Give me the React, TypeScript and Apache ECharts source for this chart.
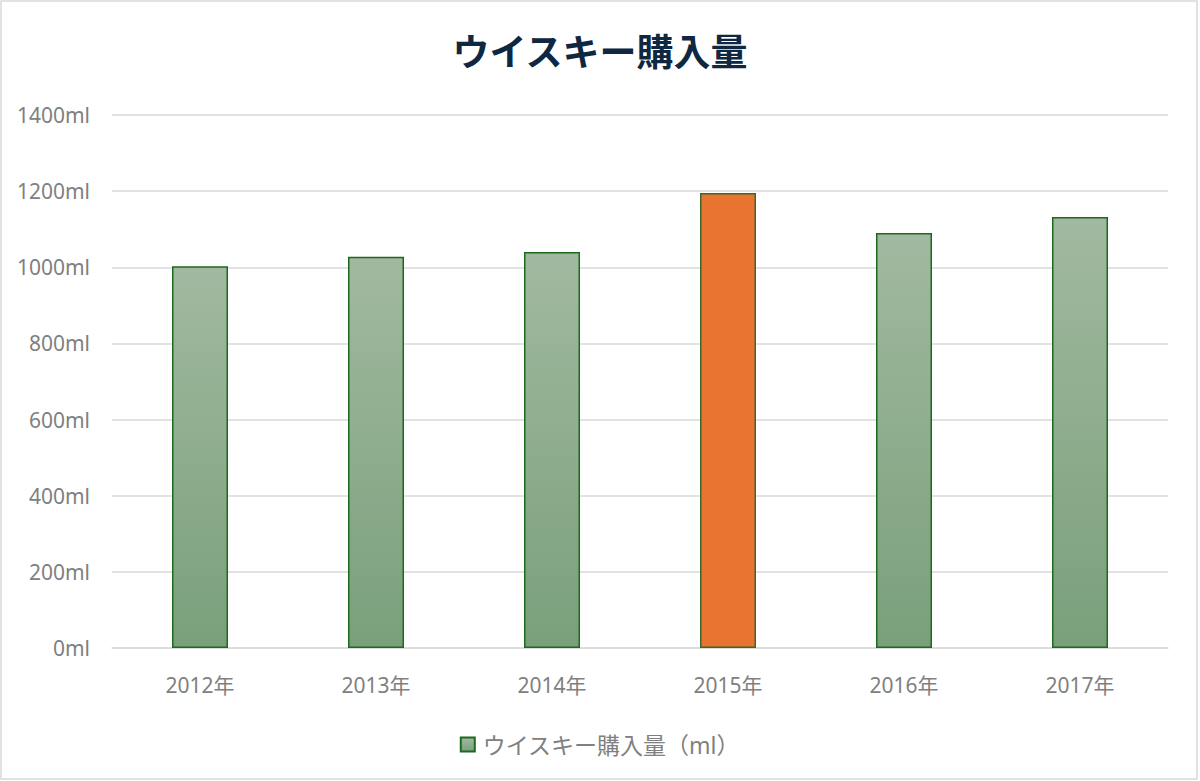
import React, { useEffect, useRef } from "react";
import * as echarts from "echarts";

const categories = ["2012年", "2013年", "2014年", "2015年", "2016年", "2017年"];
const purchaseMl = [1003, 1028, 1040, 1195, 1090, 1132];
const highlightIndex = 3;
const yTicks = { min: 0, max: 1400, interval: 200 };
const titleText = "ウイスキー購入量";
const seriesName = "ウイスキー購入量（ml）";

const FONT = '"Noto Sans", "Noto Sans CJK JP", sans-serif';
const TITLE_FONT = '"Noto Sans CJK JP", "Noto Sans", sans-serif';

export default function App() {
  const ref = useRef<HTMLDivElement>(null);

  useEffect(() => {
    document.body.style.margin = "0";
    if (!ref.current) return;
    const chart = echarts.init(ref.current, undefined, { renderer: "svg" });
    const greenGradient = new echarts.graphic.LinearGradient(0, 0, 0, 1, [
      { offset: 0, color: "#a1b9a0" },
      { offset: 1, color: "#7aa07b" },
    ]);
    chart.setOption({
      animation: false,
      backgroundColor: "#ffffff",
      textStyle: { fontFamily: FONT },
      title: {
        text: titleText,
        left: "center",
        top: 31,
        padding: 0,
        textStyle: {
          fontFamily: TITLE_FONT,
          fontSize: 37,
          fontWeight: "bold",
          color: "#0e2841",
        },
      },
      graphic: [
        {
          type: "rect",
          shape: { x: 1, y: 1, width: 1196, height: 778 },
          style: { fill: "none", stroke: "#d9d9d9", lineWidth: 1.5 },
          silent: true,
        },
      ],
      legend: {
        top: 728,
        left: "center",
        itemWidth: 14,
        itemHeight: 14,
        itemGap: 10,
        icon: "rect",
        textStyle: {
          fontFamily: FONT,
          fontSize: 23,
          color: "#808080",
          padding: [0, 0, 0, 3],
        },
        data: [seriesName],
      },
      grid: { left: 112, right: 32, top: 115, bottom: 133, containLabel: false },
      xAxis: {
        type: "category",
        data: categories,
        axisTick: { show: false },
        axisLine: { lineStyle: { color: "#d9d9d9", width: 1.5 } },
        axisLabel: {
          margin: 26,
          fontFamily: FONT,
          fontSize: 21,
          color: "#808080",
        },
      },
      yAxis: {
        type: "value",
        min: yTicks.min,
        max: yTicks.max,
        interval: yTicks.interval,
        axisLine: { show: false },
        axisTick: { show: false },
        splitLine: { lineStyle: { color: "#d9d9d9", width: 1.5 } },
        axisLabel: {
          formatter: (v: number) => `${v}ml`,
          margin: 22,
          fontFamily: FONT,
          fontSize: 21,
          color: "#808080",
        },
      },
      series: [
        {
          name: seriesName,
          type: "bar",
          barWidth: 56,
          itemStyle: {
            color: greenGradient,
            borderColor: "#1d6a1f",
            borderWidth: 1.5,
          },
          data: purchaseMl.map((v, i) =>
            i === highlightIndex
              ? { value: v, itemStyle: { color: "#e97331", borderColor: "#3b6a28" } }
              : v
          ),
        },
      ],
    });
    return () => chart.dispose();
  }, []);

  return (
    <div
      ref={ref}
      style={{ position: "absolute", left: 0, top: 0, width: 1200, height: 781 }}
    />
  );
}
